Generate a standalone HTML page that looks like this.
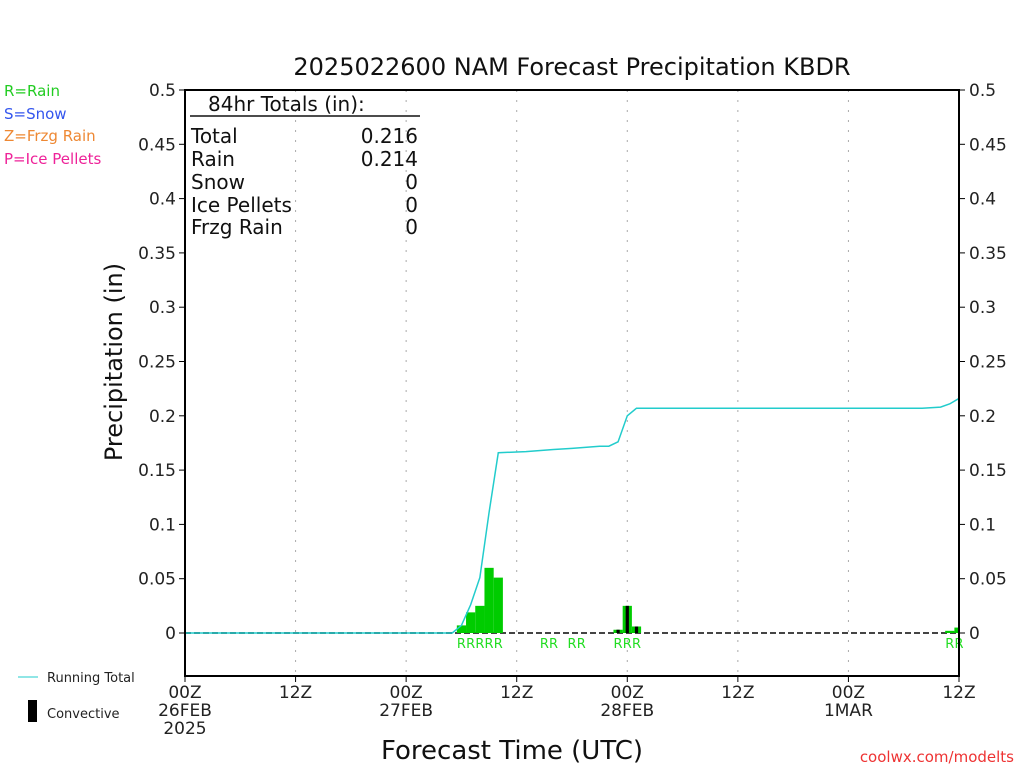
<!DOCTYPE html>
<html><head><meta charset="utf-8"><style>
body{margin:0;background:#fff;}
svg{font-family:"DejaVu Sans","Liberation Sans",sans-serif;}
</style></head><body>
<svg id="c" width="1024" height="768" xmlns="http://www.w3.org/2000/svg">
<rect width="1024" height="768" fill="#fff"/>
<text x="572" y="75" font-size="24" text-anchor="middle" fill="#111">2025022600 NAM Forecast Precipitation KBDR</text>
<g font-size="15">
<text x="4" y="96" fill="#22cc22">R=Rain</text>
<text x="4" y="119" fill="#3355ee">S=Snow</text>
<text x="4" y="141" fill="#ee8833">Z=Frzg Rain</text>
<text x="4" y="164" fill="#ee2299">P=Ice Pellets</text>
</g>
<g id="grid"></g>
<g id="bars"></g>
<g id="line"></g>
<rect x="185" y="90" width="774" height="586" fill="none" stroke="#000" stroke-width="2"/>
<g id="axes" font-size="17" fill="#222"></g>
<text x="122" y="362" font-size="24" text-anchor="middle" transform="rotate(-90 122 362)" fill="#111">Precipitation (in)</text>
<text x="512" y="759" font-size="26" text-anchor="middle" fill="#111">Forecast Time (UTC)</text>
<text x="1014" y="762" font-size="15" text-anchor="end" fill="#ee3333">coolwx.com/modelts</text>
<g font-size="20" fill="#111">
<text x="208" y="111">84hr Totals (in):</text>
<line x1="190" y1="116" x2="420" y2="116" stroke="#111" stroke-width="1.5"/>
<text x="191" y="143">Total</text><text x="418" y="143" text-anchor="end">0.216</text>
<text x="191" y="166">Rain</text><text x="418" y="166" text-anchor="end">0.214</text>
<text x="191" y="189">Snow</text><text x="418" y="189" text-anchor="end">0</text>
<text x="191" y="212">Ice Pellets</text><text x="418" y="212" text-anchor="end">0</text>
<text x="191" y="234">Frzg Rain</text><text x="418" y="234" text-anchor="end">0</text>
</g>
<g font-size="13" fill="#222">
<line x1="18" y1="677" x2="38" y2="677" stroke="#22cccc" stroke-width="1"/>
<text x="47" y="682">Running Total</text>
<rect x="28" y="700" width="9" height="22" fill="#000"/>
<text x="47" y="718">Convective</text>
</g>
</svg>
<script>
const barHours=[30,31,32,33,34,47,48,49,83,84];
const barVals=[0.007,0.019,0.025,0.060,0.051,0.003,0.025,0.006,0.002,0.005];
const convVals=[0,0,0,0,0,0.003,0.025,0.006,0,0];
const runHours=[0,29,30,31,32,33,34,37,40,42,45,46,47,48,49,80,82,83,84];
const runVals=[0,0,0.007,0.026,0.051,0.111,0.166,0.167,0.169,0.170,0.172,0.172,0.176,0.200,0.207,0.207,0.208,0.211,0.216];
const rainLabelHours=[30,31,32,33,34,39,40,42,43,47,48,49,83,84];
const yTicks=[0,0.05,0.1,0.15,0.2,0.25,0.3,0.35,0.4,0.45,0.5];
const xTickHours=[0,12,24,36,48,60,72,84];
const xTickLabels=[["00Z","26FEB","2025"],["12Z"],["00Z","27FEB"],["12Z"],["00Z","28FEB"],["12Z"],["00Z","1MAR"],["12Z"]];
const NS="http://www.w3.org/2000/svg";
const X=h=>185+h*774/84;
const Y=v=>633-v*1086;
function mk(tag,at,parent){const e=document.createElementNS(NS,tag);for(const k in at)e.setAttribute(k,at[k]);document.getElementById(parent).appendChild(e);return e;}
// grid
xTickHours.forEach((h,i)=>{if(i>0&&i<xTickHours.length-1){const l=mk('line',{x1:X(h),y1:90,x2:X(h),y2:676,stroke:'#aaa','stroke-dasharray':'2,8'},'grid');

}});
const z=mk('line',{x1:185,y1:Y(0),x2:959,y2:Y(0),stroke:'#444','stroke-width':2,'stroke-dasharray':'6,3'},'grid');


// bars
const bw=774/84;
barHours.forEach((h,i)=>{let x0=X(h)-bw/2,w=bw;if(x0+w>959)w=959-x0;
const r=mk('rect',{x:x0,y:Y(barVals[i]),width:w,height:Y(0)-Y(barVals[i]),fill:'#00cc00'},'bars');


if(convVals[i]>0){const c=mk('rect',{x:X(h)-bw/2+3,y:Y(convVals[i]),width:bw-6,height:Y(0)-Y(convVals[i]),fill:'#000'},'bars');

}});
rainLabelHours.forEach(h=>{const t=mk('text',{x:X(h),y:648,'font-size':13,fill:'#22dd22','text-anchor':'middle'},'bars');t.textContent='R';

});
// line
const p=mk('polyline',{points:runHours.map((h,i)=>X(h)+','+Y(runVals[i])).join(' '),fill:'none',stroke:'#22cccc','stroke-width':1.5},'line');


// axes
yTicks.forEach(v=>{const y=Y(v);
mk('line',{x1:179,y1:y,x2:185,y2:y,stroke:'#000'},'axes');mk('line',{x1:959,y1:y,x2:965,y2:y,stroke:'#000'},'axes');
const a=mk('text',{x:176,y:y+6,'text-anchor':'end'},'axes');a.textContent=String(v);


const b=mk('text',{x:969,y:y+6},'axes');b.textContent=String(v);

});
xTickHours.forEach((h,i)=>{mk('line',{x1:X(h),y1:676,x2:X(h),y2:682,stroke:'#000'},'axes');
xTickLabels[i].forEach((s,j)=>{const t=mk('text',{x:X(h),y:698+j*18,'text-anchor':'middle'},'axes');t.textContent=s;

});});
</script>
</body></html>
